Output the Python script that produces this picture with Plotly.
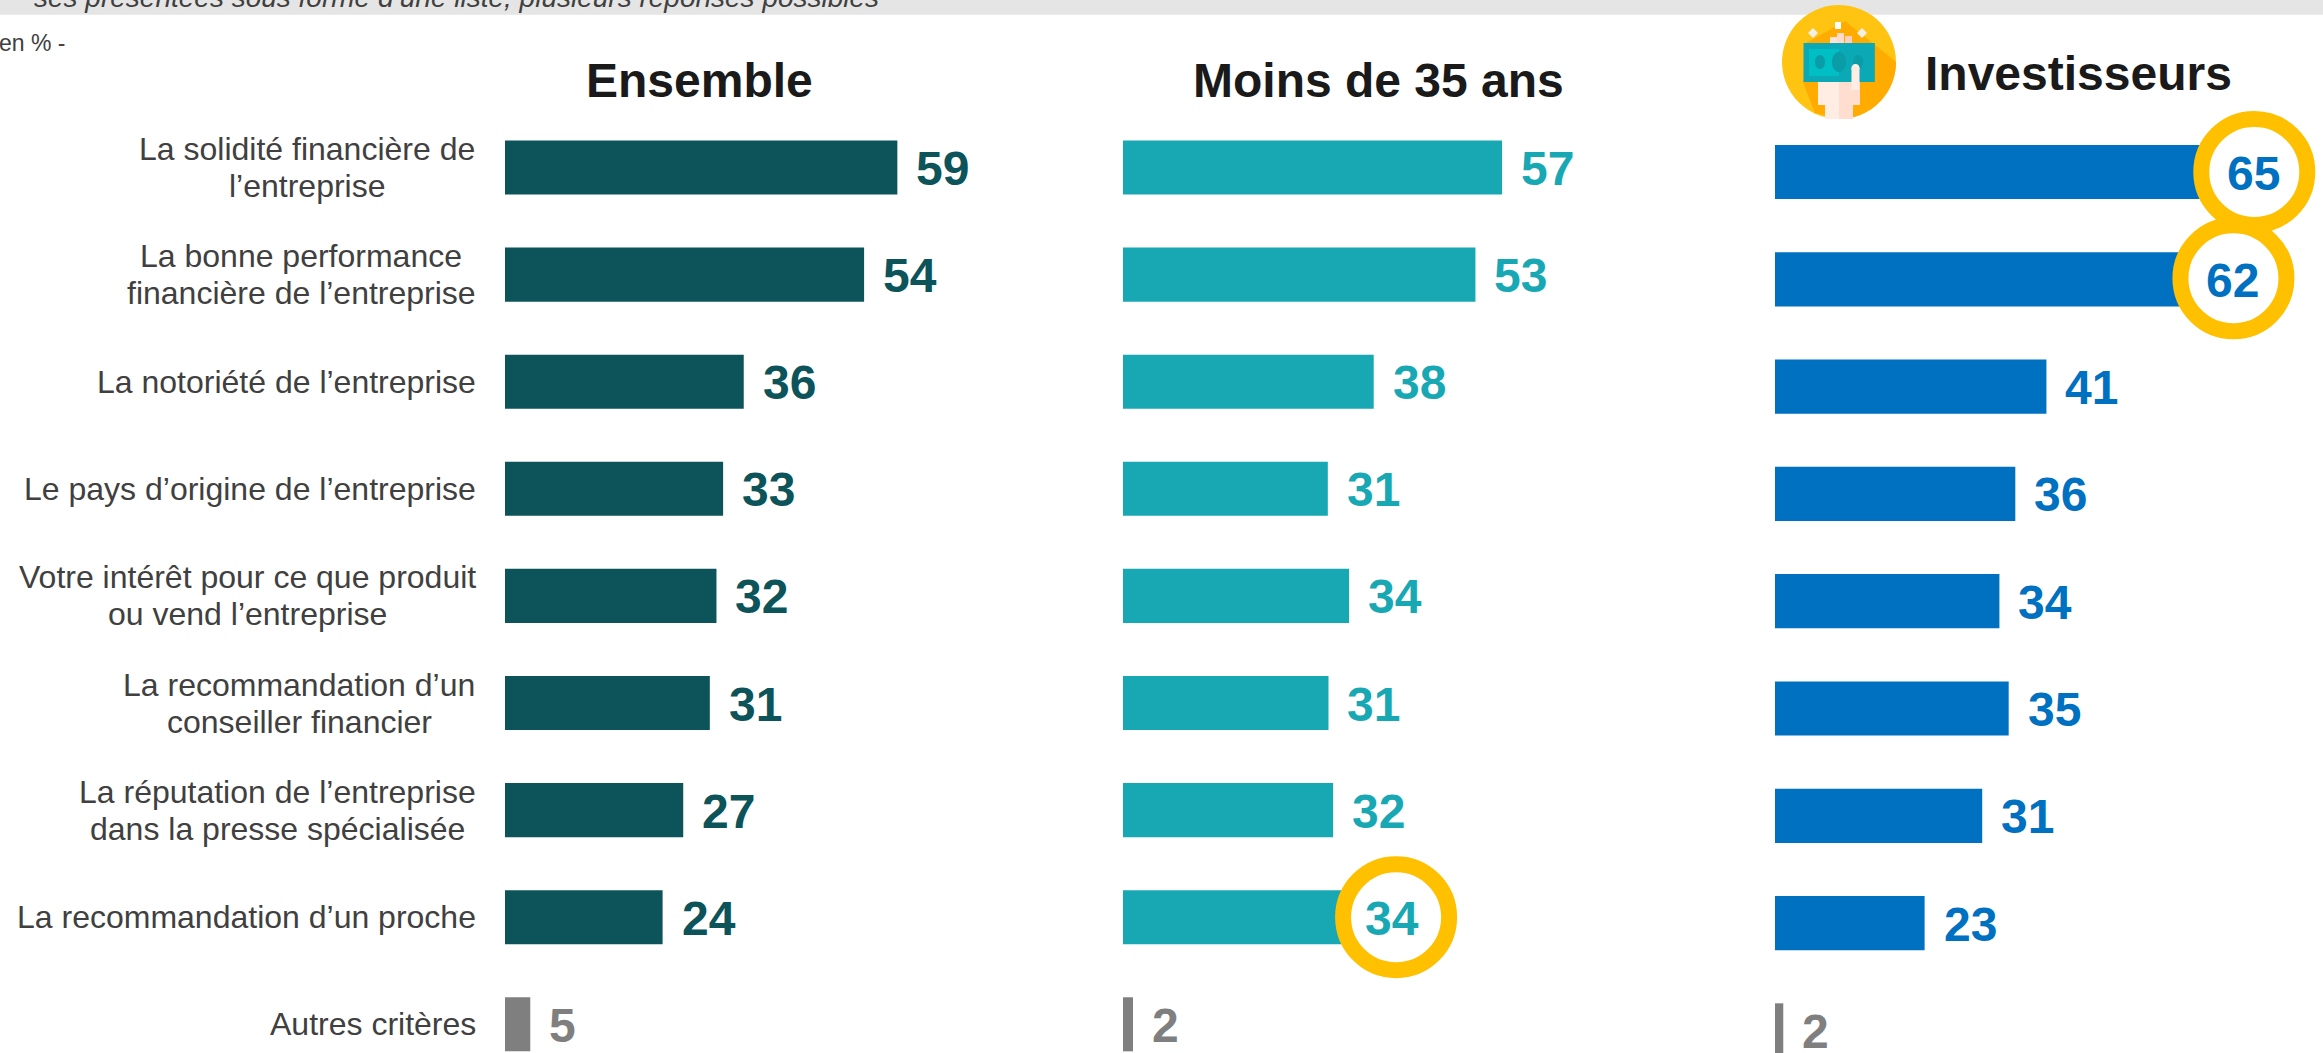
import numpy as np
import plotly.graph_objects as go

W, H = 2323, 1053

# ---------- data ----------
categories = [
    ["La solidité financière de", "l’entreprise"],
    ["La bonne performance", "financière de l’entreprise"],
    ["La notoriété de l’entreprise"],
    ["Le pays d’origine de l’entreprise"],
    ["Votre intérêt pour ce que produit", "ou vend l’entreprise"],
    ["La recommandation d’un", "conseiller financier"],
    ["La réputation de l’entreprise", "dans la presse spécialisée"],
    ["La recommandation d’un proche"],
    ["Autres critères"],
]
ensemble = [59, 54, 35.9, 32.8, 31.8, 30.8, 26.8, 23.7]
moins_35 = [57, 53, 37.7, 30.8, 34, 30.9, 31.6, 34]
investisseurs = [65, 62, 41, 36.3, 33.9, 35.3, 31.3, 22.6]
autres_label = [5, 2, 2]
autres_len = [3.8, 1.5, 1.25]
titles = ["Ensemble", "Moins de 35 ans", "Investisseurs"]
highlighted = [{}, {7: 47}, {0: 49, 1: 48}]

# ---------- style ----------
TEAL_D, TEAL, BLUE, GOLD, GREY = "#0C535A", "#18A8B4", "#0070C0", "#FFC000", "#7F7F7F"
FONT = "Liberation Sans"
panels = [
    dict(vals=ensemble, col=TEAL_D, x0=505, first=167.5, pitch=107.1, scale=6.65, tx=699, ty=80),
    dict(vals=moins_35, col=TEAL, x0=1123, first=167.5, pitch=107.1, scale=6.65, tx=1378, ty=80),
    dict(vals=investisseurs, col=BLUE, x0=1775, first=172.0, pitch=107.3, scale=6.62, tx=2078, ty=73),
]
label_cx = {0: 307, 1: 301, 4: 247, 5: 299, 6: 277}
LABEL_R = 478
LINE_H = 37
VAL_FS, LAB_FS, TIT_FS = 48, 32, 48


def px(x):
    return x / W


def py(y):
    return 1 - y / H


fig = go.Figure()
annots, shapes = [], []


def page_text(x, y, text, size, color, anchor="center", **kw):
    annots.append(dict(x=px(x), y=py(y), xref="paper", yref="paper", text=text, showarrow=False,
                       xanchor=anchor, yanchor="middle", font=dict(family=FONT, size=size, color=color),
                       borderpad=0, **kw))


layout_axes = {}
for i, p in enumerate(panels):
    suffix = "" if i == 0 else str(i + 1)
    right = min(W, p["x0"] + 560)
    layout_axes[f"xaxis{suffix}"] = dict(domain=[px(p["x0"]), px(right)],
                                         range=[0, (right - p["x0"]) / p["scale"]],
                                         visible=False, anchor=f"y{suffix}", fixedrange=True)
    layout_axes[f"yaxis{suffix}"] = dict(domain=[0, 1],
                                         range=[(H - p["first"]) / p["pitch"], -p["first"] / p["pitch"]],
                                         visible=False, anchor=f"x{suffix}", fixedrange=True)
    rows = list(range(8))
    fig.add_trace(go.Bar(x=p["vals"], y=rows, orientation="h", width=0.505, marker=dict(color=p["col"], line_width=0),
                         xaxis=f"x{suffix}", yaxis=f"y{suffix}", showlegend=False, hoverinfo="skip"))
    fig.add_trace(go.Bar(x=[autres_len[i]], y=[8], orientation="h", width=0.505, marker=dict(color=GREY, line_width=0),
                         xaxis=f"x{suffix}", yaxis=f"y{suffix}", showlegend=False, hoverinfo="skip"))
    for r, v in enumerate(p["vals"]):
        label = str(round(v))
        if r in highlighted[i]:
            off = highlighted[i][r]
            dy = 1 if (i == 2 and r == 1) else 0
            shapes.append(dict(type="circle", xref=f"x{suffix}", yref=f"y{suffix}", xsizemode="pixel", ysizemode="pixel",
                               xanchor=v, yanchor=r, x0=off - 53, x1=off + 53, y0=dy - 53, y1=dy + 53,
                               fillcolor="white", line=dict(color=GOLD, width=16), layer="above"))
            annots.append(dict(x=v, y=r, xref=f"x{suffix}", yref=f"y{suffix}", text=label, showarrow=False,
                               xanchor="center", yanchor="middle", xshift=off - 4 if i == 1 else off - 1, yshift=-1,
                               font=dict(family=FONT, size=VAL_FS, color=p["col"], weight="bold")))
        else:
            annots.append(dict(x=v, y=r, xref=f"x{suffix}", yref=f"y{suffix}", text=label, showarrow=False,
                               xanchor="left", yanchor="middle", xshift=17, yshift=-1,
                               font=dict(family=FONT, size=VAL_FS, color=p["col"], weight="bold")))
    annots.append(dict(x=autres_len[i], y=8, xref=f"x{suffix}", yref=f"y{suffix}", text=str(autres_label[i]),
                       showarrow=False, xanchor="left", yanchor="middle", xshift=17, yshift=-1,
                       font=dict(family=FONT, size=VAL_FS, color=GREY, weight="bold")))
    annots.append(dict(x=p["tx"] / W, y=py(p["ty"]), xref="paper", yref="paper", text=titles[i], showarrow=False,
                       xanchor="center", yanchor="middle", font=dict(family=FONT, size=TIT_FS, color="#1A1A1A", weight="bold")))

# category labels (one annotation per line for the tight leading)
for r, lines in enumerate(categories):
    for k, line in enumerate(lines):
        yshift = (len(lines) - 1) / 2 * LINE_H - k * LINE_H
        if len(lines) > 1:
            x, anchor = label_cx[r], "center"
        else:
            x, anchor = LABEL_R, "right"
        annots.append(dict(x=x / W, y=r, xref="paper", yref="y", yshift=yshift, text=line, showarrow=False,
                           xanchor=anchor, yanchor="middle", font=dict(family=FONT, size=LAB_FS, color="#404040")))

# header band
shapes.append(dict(type="rect", xref="paper", yref="paper", x0=0, x1=1, y0=py(14.7), y1=1,
                   fillcolor="#E5E5E5", line_width=0, layer="below"))
annots.append(dict(x=px(881), y=py(15), xref="paper", yref="paper", yanchor="bottom", xanchor="right", showarrow=False,
                   text="<i>ses présentées sous forme d’une liste, plusieurs réponses possibles</i>",
                   font=dict(family=FONT, size=28, color="#404040")))
page_text(66, 43, "en % -", 23, "#404040", anchor="right")


# icon
def poly(points, color, layer="above"):
    path = "M" + " L".join(f"{px(x):.5f},{py(y):.5f}" for x, y in points) + " Z"
    shapes.append(dict(type="path", xref="paper", yref="paper", path=path, fillcolor=color, line_width=0, layer=layer))


def ell(cx, cy, rx, ry, color, a0=0, a1=360):
    t = np.radians(np.linspace(a0, a1, 60))
    poly([(cx + rx * np.cos(a), cy + ry * np.sin(a)) for a in t], color)


def rect(x0, y0, x1, y1, color):
    poly([(x0, y0), (x1, y0), (x1, y1), (x0, y1)], color)


CX, CY, R = 1839, 62, 57
ell(CX, CY, R, R, "#FFC312")
t = np.radians(np.linspace(0, 85, 40))
poly([(1845, 21)] + [(CX + R * np.cos(a), CY + R * np.sin(a)) for a in t] + [(1815, 113), (1803, 82), (1806, 43), (1826, 32)],
     "#FFAB00")
rect(1803.5, 43, 1874.6, 82, "#0AA9B5")
rect(1809, 49, 1869, 76, "#00BFC4")
rect(1839, 43, 1874.6, 82, "#0AA9B5")
for cx, ry in [(1820, 7), (1839, 10), (1858, 7)]:
    ell(cx, 62, 5 if cx != 1839 else 7, ry, "#0A9DA8")
rect(1830, 37, 1837, 43, "#FFE3D8")
rect(1837, 33, 1844, 43, "#FFD9CA")
rect(1845, 36, 1852, 43, "#FFD0BF")
rect(1818, 82, 1839, 105, "#FFEDE4")
rect(1839, 82, 1860, 105, "#FFDDCF")
rect(1825, 105, 1839, 119, "#FFEDE4")
rect(1839, 105, 1853, 119, "#FFDDCF")
rect(1851.5, 68, 1859.5, 90, "#FFEDE4")
ell(1855.5, 68, 4, 4, "#FFEDE4")
rect(1835, 22, 1841, 29, "#FFFFFF")
for cx in (1813, 1862):
    poly([(cx, 28), (cx + 5, 33), (cx, 38), (cx - 5, 33)], "#F5F0E6")

fig.update_layout(width=W, height=H, autosize=False, margin=dict(l=0, r=0, t=0, b=0, pad=0),
                  paper_bgcolor="white", plot_bgcolor="rgba(0,0,0,0)", barmode="overlay",
                  annotations=annots, shapes=shapes, showlegend=False, font=dict(family=FONT), **layout_axes)

fig.write_html("out.html", config=dict(displayModeBar=False),
               post_script="document.body.style.margin='0';document.body.style.overflow='hidden';")
